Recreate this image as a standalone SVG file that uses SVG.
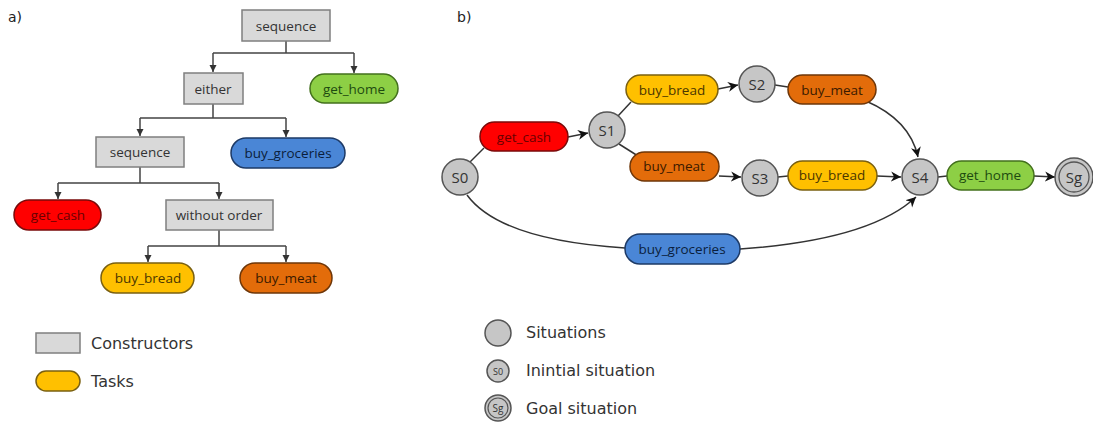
<svg xmlns="http://www.w3.org/2000/svg" width="1093" height="422" viewBox="0 0 1093 422">
<style>
.box{fill:#d9d9d9;stroke:#7f7f7f;stroke-width:1.5}
.lbl{font-family:"Open Sans","Noto Sans",sans-serif;font-size:13.5px;text-anchor:middle;dominant-baseline:central}
.sl{font-family:"Open Sans","Noto Sans",sans-serif;font-size:15px;text-anchor:middle;dominant-baseline:central;fill:#333}
.leg{font-family:"DejaVu Sans",sans-serif;font-size:16px;fill:#333}
.hdr{font-family:"DejaVu Sans",sans-serif;font-size:14px;fill:#222}
.sit{fill:#c6c6c6;stroke:#555;stroke-width:1.5}
.tl{fill:none;stroke:#444;stroke-width:1.5}
.bl{fill:none;stroke:#333;stroke-width:1.5}
.red{fill:#ff0000;stroke:#7a0a0a;stroke-width:1.5}
.grn{fill:#8dcf45;stroke:#43701d;stroke-width:1.5}
.blu{fill:#4a86d6;stroke:#1d3a66;stroke-width:1.5}
.yel{fill:#ffc000;stroke:#7a6010;stroke-width:1.5}
.org{fill:#e36c0a;stroke:#6e3608;stroke-width:1.5}
</style>
<defs>
<marker id="ta" markerWidth="8" markerHeight="8" refX="7" refY="4" orient="auto" markerUnits="userSpaceOnUse">
<path d="M0,0.5 L7,4 L0,7.5 Z" fill="#333"/>
</marker>
<marker id="ba" markerWidth="12" markerHeight="12" refX="10" refY="6" orient="auto" markerUnits="userSpaceOnUse">
<path d="M0,1 L10,6 L0,11 L3,6 Z" fill="#111"/>
</marker>
</defs>
<text class="hdr" x="8" y="22">a)</text>
<text class="hdr" x="457" y="22">b)</text>

<g id="tree-connectors">
<path class="tl" d="M286,41 V53 M213,53 H354" />
<path class="tl" d="M213,53 V72" marker-end="url(#ta)"/>
<path class="tl" d="M354,53 V73" marker-end="url(#ta)"/>
<path class="tl" d="M213,104 V118 M140,118 H286"/>
<path class="tl" d="M140,118 V136" marker-end="url(#ta)"/>
<path class="tl" d="M286,118 V137" marker-end="url(#ta)"/>
<path class="tl" d="M140,167 V183 M58,183 H219"/>
<path class="tl" d="M58,183 V199" marker-end="url(#ta)"/>
<path class="tl" d="M219,183 V199" marker-end="url(#ta)"/>
<path class="tl" d="M219,230 V246 M148,246 H286"/>
<path class="tl" d="M148,246 V262" marker-end="url(#ta)"/>
<path class="tl" d="M286,246 V262" marker-end="url(#ta)"/>
</g>

<g id="a-sequence1"><rect class="box" x="242" y="10" width="88" height="31"/><text class="lbl" x="286" y="26" fill="#333">sequence</text></g>
<g id="a-either"><rect class="box" x="184" y="73" width="59" height="31"/><text class="lbl" x="213" y="89" fill="#333">either</text></g>
<g id="a-get_home"><rect class="grn" x="310" y="74" width="88" height="29" rx="14.5"/><text class="lbl" x="354" y="89" fill="#1d4a10">get_home</text></g>
<g id="a-sequence2"><rect class="box" x="96" y="137" width="88" height="30"/><text class="lbl" x="140" y="152" fill="#333">sequence</text></g>
<g id="a-buy_groceries"><rect class="blu" x="231" y="138" width="114" height="30" rx="15"/><text class="lbl" x="288" y="153" fill="#0a1e3c">buy_groceries</text></g>
<g id="a-get_cash"><rect class="red" x="14" y="200" width="87" height="30" rx="15"/><text class="lbl" x="58" y="215" fill="#6a0000">get_cash</text></g>
<g id="a-without_order"><rect class="box" x="166" y="200" width="107" height="30"/><text class="lbl" x="219" y="215" fill="#333">without order</text></g>
<g id="a-buy_bread"><rect class="yel" x="101" y="263" width="93" height="30" rx="15"/><text class="lbl" x="148" y="278" fill="#4a3600">buy_bread</text></g>
<g id="a-buy_meat"><rect class="org" x="240" y="263" width="92" height="30" rx="15"/><text class="lbl" x="286" y="278" fill="#3a1a00">buy_meat</text></g>

<g id="legend-a">
<rect class="box" x="36" y="333" width="44" height="20"/>
<text class="leg" x="91" y="349">Constructors</text>
<rect class="yel" x="36" y="371" width="44" height="20" rx="10"/>
<text class="leg" x="91" y="387">Tasks</text>
</g>

<g id="b-connectors">
<path class="bl" d="M470,162 L484,148"/>
<path class="bl" d="M568,137 L588,133" marker-end="url(#ba)"/>
<path class="bl" d="M618,116 L631,102"/>
<path class="bl" d="M718,89 L738,85" marker-end="url(#ba)"/>
<path class="bl" d="M775,85 L788,87"/>
<path class="bl" d="M866,101 Q910,120 918,157" marker-end="url(#ba)"/>
<path class="bl" d="M619,144 L638,156"/>
<path class="bl" d="M719,176 L741,177" marker-end="url(#ba)"/>
<path class="bl" d="M778,177 L788,176"/>
<path class="bl" d="M877,176 L901,177" marker-end="url(#ba)"/>
<path class="bl" d="M938,177 L947,176"/>
<path class="bl" d="M1034,176 L1055,177" marker-end="url(#ba)"/>
<path class="bl" d="M467,195 Q500,240 625,248"/>
<path class="bl" d="M740,249 Q870,240 916,197" marker-end="url(#ba)"/>
</g>

<g id="b-S0"><circle class="sit" cx="460" cy="177" r="18"/><text class="sl" x="460" y="177">S0</text></g>
<g id="b-get_cash"><rect class="red" x="480" y="122" width="88" height="29" rx="14.5"/><text class="lbl" x="524" y="137" fill="#6a0000">get_cash</text></g>
<g id="b-S1"><circle class="sit" cx="607" cy="130" r="18"/><text class="sl" x="607" y="130">S1</text></g>
<g id="b-buy_bread1"><rect class="yel" x="626" y="75" width="92" height="29" rx="14.5"/><text class="lbl" x="672" y="90" fill="#4a3600">buy_bread</text></g>
<g id="b-S2"><circle class="sit" cx="757" cy="84" r="18"/><text class="sl" x="757" y="84">S2</text></g>
<g id="b-buy_meat1"><rect class="org" x="788" y="75" width="88" height="29" rx="14.5"/><text class="lbl" x="832" y="90" fill="#3a1a00">buy_meat</text></g>
<g id="b-buy_meat2"><rect class="org" x="630" y="152" width="89" height="29" rx="14.5"/><text class="lbl" x="674" y="166" fill="#3a1a00">buy_meat</text></g>
<g id="b-S3"><circle class="sit" cx="760" cy="178" r="18"/><text class="sl" x="760" y="178">S3</text></g>
<g id="b-buy_bread2"><rect class="yel" x="788" y="161" width="89" height="29" rx="14.5"/><text class="lbl" x="832" y="175" fill="#4a3600">buy_bread</text></g>
<g id="b-S4"><circle class="sit" cx="920" cy="177" r="18"/><text class="sl" x="920" y="177">S4</text></g>
<g id="b-get_home"><rect class="grn" x="947" y="161" width="87" height="29" rx="14.5"/><text class="lbl" x="990" y="175" fill="#1d4a10">get_home</text></g>
<g id="b-Sg"><circle class="sit" cx="1074" cy="177" r="19"/><circle fill="none" stroke="#555" stroke-width="1.3" cx="1074" cy="177" r="15"/><text class="sl" x="1074" y="177">Sg</text></g>
<g id="b-buy_groceries"><rect class="blu" x="625" y="234" width="115" height="30" rx="15"/><text class="lbl" x="682" y="249" fill="#0a1e3c">buy_groceries</text></g>

<g id="legend-b">
<circle class="sit" cx="498" cy="333" r="13"/>
<text class="leg" x="526" y="338">Situations</text>
<circle class="sit" cx="498" cy="371" r="11"/>
<text class="lbl" x="498" y="371" fill="#333" style="font-size:9px">S0</text>
<text class="leg" x="526" y="376">Inintial situation</text>
<circle class="sit" cx="498" cy="408" r="13"/>
<circle fill="none" stroke="#555" stroke-width="1.2" cx="498" cy="408" r="10"/>
<text class="lbl" x="498" y="408" fill="#333" style="font-size:10px">Sg</text>
<text class="leg" x="526" y="414">Goal situation</text>
</g>
</svg>
